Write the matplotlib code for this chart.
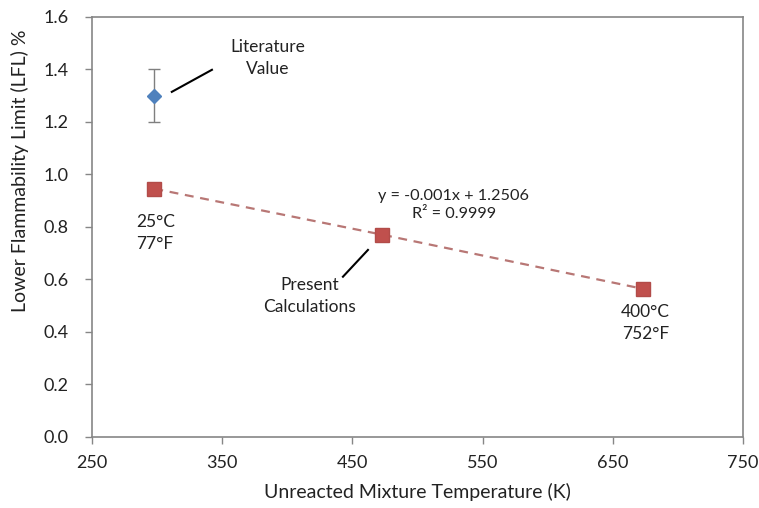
import matplotlib
matplotlib.use("Agg")
import matplotlib.pyplot as plt
import numpy as np

plt.rcParams['font.family'] = ['Lato', 'DejaVu Sans']

lit_x = [298]
lit_y = [1.3]
lit_err = [0.1]

calc_x = [298, 473, 673]
calc_y = [0.945, 0.770, 0.564]

xticks = [250, 350, 450, 550, 650, 750]
yticks = [0.0, 0.2, 0.4, 0.6, 0.8, 1.0, 1.2, 1.4, 1.6]

fig = plt.figure(figsize=(7.59, 5.08), dpi=100)
ax = fig.add_axes([0.121, 0.140, 0.858, 0.827])

ax.plot(calc_x, calc_y, linestyle=(0, (4, 3)), color='#B87775', lw=1.6, zorder=2)
ax.plot(calc_x, calc_y, linestyle='none', marker='s', ms=10, color='#C0504D',
        markeredgecolor='#B24C49', zorder=3)
ax.errorbar(lit_x, lit_y, yerr=lit_err, fmt='D', ms=7, color='#4F81BD',
            ecolor='#7F7F7F', elinewidth=1, capsize=4, capthick=1, zorder=3)

ax.set_xlim(250, 750)
ax.set_ylim(0, 1.6)
ax.set_xticks(xticks)
ax.set_yticks(yticks)
ax.set_xticklabels([str(t) for t in xticks])
ax.set_yticklabels([f"{t:.1f}" for t in yticks])
for s in ax.spines.values():
    s.set_color('#868686')
    s.set_linewidth(1.2)
ax.tick_params(axis='both', colors='#868686', labelcolor='#222222', labelsize=13,
               direction='out', length=5, width=1)
ax.tick_params(axis='x', pad=8)
ax.tick_params(axis='y', pad=12)

ax.set_xlabel('Unreacted Mixture Temperature (K)', fontsize=14, color='#222222', labelpad=9)
ax.set_ylabel('Lower Flammability Limit (LFL) %', fontsize=14, color='#222222')
ax.yaxis.set_label_coords(-0.097, 0.633)

tcol = '#222222'
fs = 12.5
ax.text(385, 1.444, 'Literature\nValue', ha='center', va='center', fontsize=fs, color=tcol, linespacing=1.45)
ax.plot([311.4, 342.2], [1.314, 1.398], color='black', lw=1.5)
ax.text(417, 0.537, 'Present\nCalculations', ha='center', va='center', fontsize=fs, color=tcol, linespacing=1.45)
ax.plot([442.8, 462.0], [0.610, 0.712], color='black', lw=1.5)
ax.text(284, 0.777, '25°C\n77°F', ha='left', va='center', fontsize=fs, color=tcol, linespacing=1.45)
ax.text(675, 0.434, '400°C\n752°F', ha='center', va='center', fontsize=fs, color=tcol, linespacing=1.45)
ax.text(528, 0.884, 'y = -0.001x + 1.2506\nR² = 0.9999', ha='center', va='center', fontsize=11.7, color=tcol, linespacing=1.35)

fig.savefig('out.png', dpi=100)
